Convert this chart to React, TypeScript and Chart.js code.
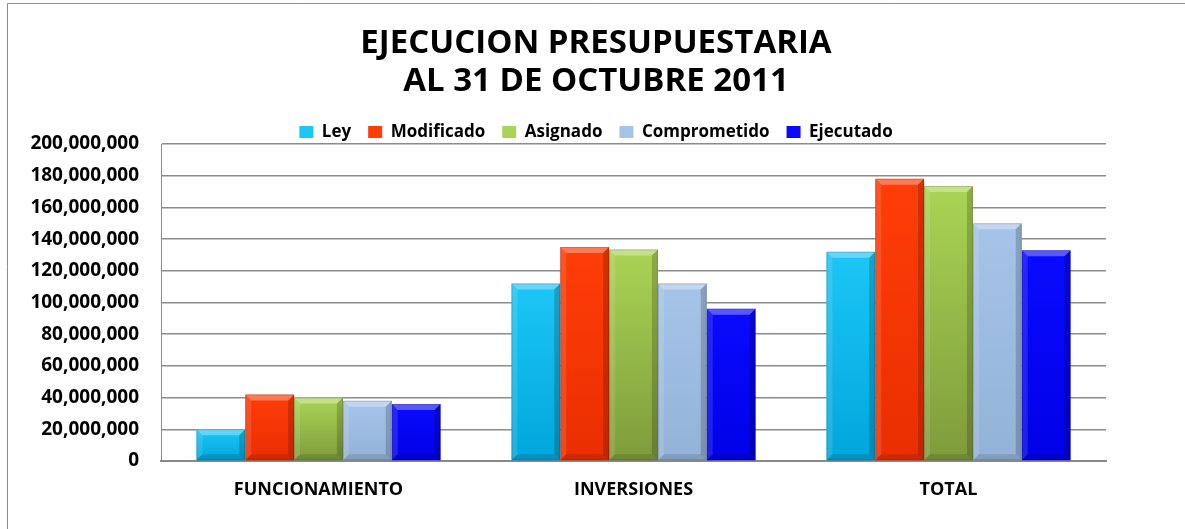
import React, { useEffect, useRef } from 'react';
import { Chart, registerables } from 'chart.js';

Chart.register(...registerables);

// ---- data ----
const categories = ['FUNCIONAMIENTO', 'INVERSIONES', 'TOTAL'];
const seriesNames = ['Ley', 'Modificado', 'Asignado', 'Comprometido', 'Ejecutado'];
const ley = [20000000, 112000000, 132000000];
const modificado = [42000000, 135000000, 178000000];
const asignado = [40000000, 133500000, 173500000];
const comprometido = [38000000, 112000000, 150000000];
const ejecutado = [36000000, 96000000, 133000000];
const titleLines = ['EJECUCION PRESUPUESTARIA', 'AL 31 DE OCTUBRE 2011'];
const yMin = 0;
const yMax = 200000000;
const yStep = 20000000;

// ---- styles ----
const FONT = "'Open Sans', 'Liberation Sans', sans-serif";
const seriesColors = [
  { base: '#00b8f0', top: '#1cc6f6', bottom: '#00a6dc' },
  { base: '#ff3300', top: '#ff3d08', bottom: '#ea2e00' },
  { base: '#99bf48', top: '#aad454', bottom: '#7e9b3b' },
  { base: '#9dbde3', top: '#a6c4e8', bottom: '#93b2d8' },
  { base: '#0000ff', top: '#0a0aff', bottom: '#0000e8' },
];

const fillFor = (idx: number) => (c: any) => {
  const col = seriesColors[idx];
  if (!c || c.type !== 'data' || c.raw == null) return col.base;
  const chart = c.chart;
  const ys = chart.scales && chart.scales.y;
  if (!ys) return col.base;
  const top = ys.getPixelForValue(c.raw);
  const bot = ys.getPixelForValue(0);
  if (!isFinite(top) || !isFinite(bot) || Math.abs(bot - top) < 1) return col.base;
  const g = chart.ctx.createLinearGradient(0, top, 0, bot);
  g.addColorStop(0, col.top);
  g.addColorStop(1, col.bottom);
  return g;
};

const bevelPlugin = {
  id: 'bevel',
  afterDatasetsDraw(chart: any) {
    const ctx = chart.ctx;
    ctx.save();
    chart.getSortedVisibleDatasetMetas().forEach((meta: any) => {
      meta.data.forEach((el: any) => {
        const { x, y, base, width } = el.getProps(['x', 'y', 'base', 'width'], true);
        const l = x - width / 2;
        const r = x + width / 2;
        const t = Math.min(y, base);
        const b = Math.max(y, base);
        const s = Math.min(6, (b - t) / 2, width / 2);
        const poly = (pts: number[][], fill: string) => {
          ctx.beginPath();
          ctx.moveTo(pts[0][0], pts[0][1]);
          for (let i = 1; i < pts.length; i++) ctx.lineTo(pts[i][0], pts[i][1]);
          ctx.closePath();
          ctx.fillStyle = fill;
          ctx.fill();
        };
        poly([[l, t], [r, t], [r - s, t + s], [l + s, t + s]], 'rgba(255,255,255,0.32)');
        poly([[l, t], [l + s, t + s], [l + s, b - s], [l, b]], 'rgba(255,255,255,0.12)');
        poly([[r, t], [r - s, t + s], [r - s, b - s], [r, b]], 'rgba(0,0,0,0.18)');
        poly([[l, b], [l + s, b - s], [r - s, b - s], [r, b]], 'rgba(0,0,0,0.12)');
        ctx.strokeStyle = 'rgba(0,0,0,0.15)';
        ctx.lineWidth = 1;
        ctx.strokeRect(l + 0.5, t + 0.5, width - 1, b - t - 1);
      });
    });
    ctx.restore();
  },
};

const backgroundPlugin = {
  id: 'bgFrame',
  beforeDraw(chart: any) {
    const ctx = chart.ctx;
    ctx.save();
    ctx.fillStyle = '#ffffff';
    ctx.fillRect(0, 0, chart.width, chart.height);
    ctx.strokeStyle = '#8c8c8c';
    ctx.lineWidth = 1;
    ctx.beginPath();
    ctx.moveTo(7.5, chart.height);
    ctx.lineTo(7.5, 3.5);
    ctx.lineTo(chart.width, 3.5);
    ctx.stroke();
    ctx.restore();
  },
};

export default function App() {
  const canvasRef = useRef<HTMLCanvasElement | null>(null);

  useEffect(() => {
    const canvas = canvasRef.current;
    if (!canvas) return;
    const seriesValues = [ley, modificado, asignado, comprometido, ejecutado];
    const chart = new Chart(canvas, {
      type: 'bar',
      data: {
        labels: categories,
        datasets: seriesNames.map((name, i) => ({
          label: name,
          data: seriesValues[i],
          backgroundColor: fillFor(i) as any,
          borderWidth: 0,
          categoryPercentage: 0.775,
          barPercentage: 1.0,
        })),
      },
      options: {
        responsive: false,
        animation: false,
        devicePixelRatio: 1,
        layout: { padding: { left: 7, right: 0, top: 0, bottom: 0 } },
        plugins: {
          title: {
            display: true,
            text: titleLines,
            color: '#000',
            font: { family: FONT, size: 33, weight: 'bold', lineHeight: 38 / 33 },
            padding: { top: 25, bottom: 5.5 },
          },
          legend: {
            display: true,
            position: 'top',
            maxHeight: 37.5,
            labels: {
              boxWidth: 14,
              boxHeight: 12,
              padding: 17,
              color: '#000',
              font: { family: FONT, size: 17, weight: 'bold' },
            },
          },
          tooltip: { enabled: false },
        },
        scales: {
          x: {
            grid: { display: false, drawTicks: false },
            border: { display: true, color: '#888888', width: 2 },
            ticks: {
              color: '#000',
              padding: 18,
              font: { family: FONT, size: 18, weight: 'bold' },
            },
            afterFit: (scale: any) => {
              scale.height = 68;
            },
          },
          y: {
            min: yMin,
            max: yMax,
            grid: { color: '#8c8c8c', lineWidth: 1.5, drawTicks: false },
            border: { display: true, color: '#8c8c8c', width: 1 },
            ticks: {
              stepSize: yStep,
              color: '#000',
              padding: 22,
              font: { family: FONT, size: 19, weight: 'bold' },
              callback: (v: any) => Number(v).toLocaleString('en-US'),
            },
            afterFit: (scale: any) => {
              scale.width = 154;
            },
          },
          yRight: {
            position: 'right',
            display: true,
            grid: { display: false, drawTicks: false },
            border: { display: false },
            ticks: { display: false },
            afterFit: (scale: any) => {
              scale.width = 79;
            },
          },
        },
      },
      plugins: [backgroundPlugin, bevelPlugin],
    });
    return () => chart.destroy();
  }, []);

  return (
    <div style={{ position: 'absolute', left: 0, top: 0, width: 1185, height: 529, background: '#fff' }}>
      <canvas ref={canvasRef} width={1185} height={529} style={{ display: 'block', width: 1185, height: 529 }} />
    </div>
  );
}
